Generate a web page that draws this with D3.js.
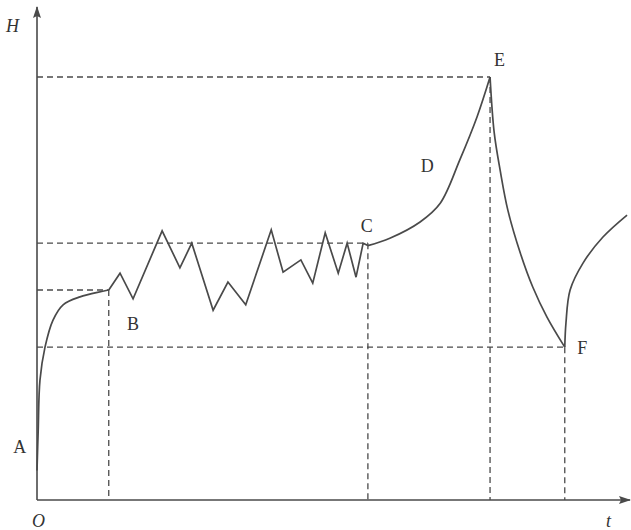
<!DOCTYPE html>
<html>
<head>
<meta charset="utf-8">
<script src="https://cdn.jsdelivr.net/npm/d3@7"></script>
<style>
  body { margin: 0; background: #fff; }
  svg { display: block; }
</style>
</head>
<body>
<div id="chart"></div>
<script>
// curve data (t, H) in arbitrary units
var segA_B = [[0, 6], [0.2, 14], [0.5, 24.3], [1.35, 31], [2.7, 36.5], [4.4, 39.6], [7.25, 41.2], [12.1, 42.6]];
var segB_C = [[12.1, 42.6], [14.0, 46.0], [16.2, 40.8], [21.1, 54.6], [24.1, 47.1], [26.1, 52.1], [29.7, 38.5],
              [32.2, 44.2], [35.2, 39.6], [39.5, 54.8], [41.5, 46.2], [44.5, 48.7], [46.5, 44.0], [48.6, 54.2],
              [50.8, 46.0], [52.3, 52.1], [53.8, 45.2], [55.0, 52.1], [55.8, 51.6]];
var segC_E = [[55.8, 51.6], [59.5, 53.1], [64.6, 56.4], [68.0, 60.2], [71.3, 69.0], [74.2, 77.7], [76.4, 85.8]];
var segE_F = [[76.4, 85.8], [77.1, 74.5], [78.1, 66.9], [79.4, 58.8], [81.5, 50.1], [83.6, 43.2], [86.0, 37.1], [89.0, 31.0]];
var segF_end = [[89.0, 31.0], [89.2, 35.9], [89.9, 42.6], [92.1, 48.1], [95.4, 53.3], [99.5, 57.8]];

// key points that get dashed guides to both axes
var guidePoints = [[12.1, 42.6], [55.8, 52.1], [76.4, 85.8], [89.0, 31.0]];

// point labels: name, t, H
var pointNames = ["A", "B", "C", "D", "E", "F"];
var pointT = [-2.9, 16.2, 55.6, 65.8, 78.0, 91.1];
var pointH = [9.6, 34.5, 54.4, 66.5, 88.0, 29.6];

var width = 631, height = 530;
var x = d3.scaleLinear().domain([0, 100]).range([37, 630]);
var y = d3.scaleLinear().domain([0, 100]).range([500, 7]);

var lineColor = "#4a4a4a";
var fontSerif = "'Liberation Serif', 'DejaVu Serif', serif";

var svg = d3.select("#chart")
  .append("svg")
    .attr("width", width)
    .attr("height", height);

// dashed guides
var guides = svg.append("g")
  .attr("stroke", lineColor)
  .attr("stroke-width", 1.3)
  .attr("stroke-dasharray", "6,4")
  .attr("fill", "none");

guides.selectAll(".hguide")
  .data(guidePoints)
  .enter()
  .append("line")
    .attr("x1", x(0))
    .attr("x2", function(d) { return x(d[0]); })
    .attr("y1", function(d) { return y(d[1]); })
    .attr("y2", function(d) { return y(d[1]); });

guides.selectAll(".vguide")
  .data(guidePoints)
  .enter()
  .append("line")
    .attr("x1", function(d) { return x(d[0]); })
    .attr("x2", function(d) { return x(d[0]); })
    .attr("y1", function(d) { return y(d[1]); })
    .attr("y2", y(0));

// axes with arrows
svg.append("defs").append("marker")
    .attr("id", "arrow")
    .attr("viewBox", "0 0 12 8")
    .attr("refX", 11)
    .attr("refY", 4)
    .attr("markerWidth", 12)
    .attr("markerHeight", 8)
    .attr("markerUnits", "userSpaceOnUse")
    .attr("orient", "auto")
  .append("path")
    .attr("d", "M0,0 L12,4 L0,8 L2,4 Z")
    .attr("fill", lineColor);

svg.append("line")
  .attr("x1", x(0)).attr("y1", y(0))
  .attr("x2", x(100)).attr("y2", y(0))
  .attr("stroke", lineColor)
  .attr("stroke-width", 1.6)
  .attr("marker-end", "url(#arrow)");

svg.append("line")
  .attr("x1", x(0)).attr("y1", y(0))
  .attr("x2", x(0)).attr("y2", y(100))
  .attr("stroke", lineColor)
  .attr("stroke-width", 1.6)
  .attr("marker-end", "url(#arrow)");

// curves
var smooth = d3.line()
  .x(function(d) { return x(d[0]); })
  .y(function(d) { return y(d[1]); })
  .curve(d3.curveCatmullRom.alpha(0.5));

var straight = d3.line()
  .x(function(d) { return x(d[0]); })
  .y(function(d) { return y(d[1]); });

var curves = svg.append("g")
  .attr("fill", "none")
  .attr("stroke", lineColor)
  .attr("stroke-width", 1.7)
  .attr("stroke-linejoin", "miter");

curves.append("path").attr("d", smooth(segA_B));
curves.append("path").attr("d", straight(segB_C));
curves.append("path").attr("d", smooth(segC_E));
curves.append("path").attr("d", smooth(segE_F));
curves.append("path").attr("d", smooth(segF_end));

// point labels
svg.selectAll(".plabel")
  .data(pointNames)
  .enter()
  .append("text")
    .attr("x", function(d, i) { return x(pointT[i]); })
    .attr("y", function(d, i) { return y(pointH[i]); })
    .attr("text-anchor", function(d) { return d == "F" ? "start" : "middle"; })
    .attr("font-family", fontSerif)
    .attr("font-size", 18)
    .attr("fill", "#333")
    .text(function(d) { return d; });

// axis names
svg.append("text")
  .attr("x", 6).attr("y", 32)
  .attr("font-family", fontSerif)
  .attr("font-style", "italic")
  .attr("font-size", 18)
  .attr("fill", "#333")
  .text("H");

svg.append("text")
  .attr("x", 32).attr("y", 527)
  .attr("font-family", fontSerif)
  .attr("font-style", "italic")
  .attr("font-size", 18)
  .attr("fill", "#333")
  .text("O");

svg.append("text")
  .attr("x", 606).attr("y", 527)
  .attr("font-family", fontSerif)
  .attr("font-style", "italic")
  .attr("font-size", 18)
  .attr("fill", "#333")
  .text("t");
</script>
</body>
</html>
